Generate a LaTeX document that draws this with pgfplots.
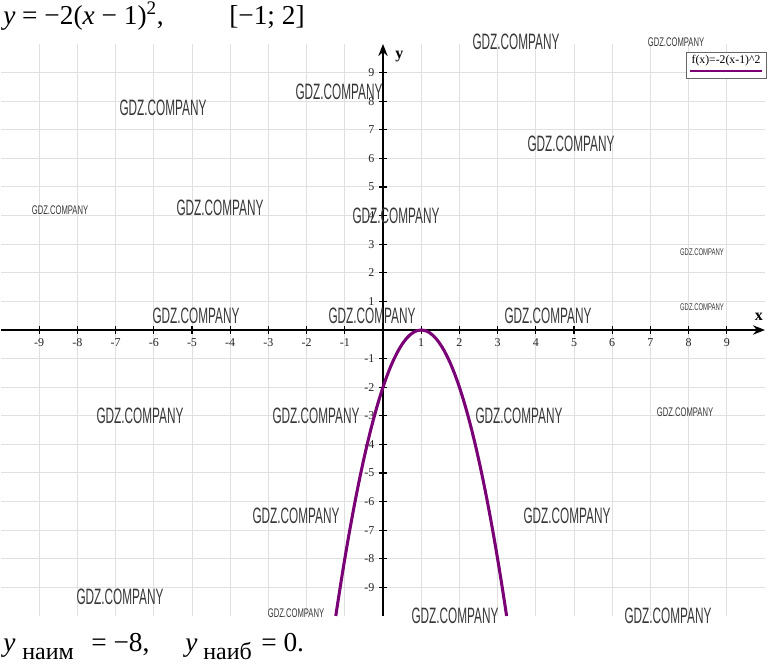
\documentclass[border=0pt]{standalone}
\usepackage{fontspec}
\setmainfont{Liberation Serif}
\newfontfamily\wm{Liberation Sans}
\usepackage{pgfplots}
\pgfplotsset{compat=1.18}
\usetikzlibrary{arrows.meta}
\definecolor{curve}{RGB}{122,0,118}
\definecolor{wmc}{RGB}{55,55,55}
\newcommand{\WB}[2]{\node[text=wmc,inner sep=0pt] at (#1,{664-#2}) {\wm\fontsize{16.7}{18}\selectfont\scalebox{0.53}[1]{GDZ.COMPANY}};}
\newcommand{\WM}[2]{\node[text=wmc,inner sep=0pt] at (#1,{664-#2}) {\wm\fontsize{9.4}{10}\selectfont\scalebox{0.61}[1]{GDZ.COMPANY}};}
\newcommand{\WS}[2]{\node[text=wmc,inner sep=0pt] at (#1,{664-#2}) {\wm\fontsize{7.3}{8}\selectfont\scalebox{0.61}[1]{GDZ.COMPANY}};}
\begin{document}
\begin{tikzpicture}[x=0.75pt,y=0.75pt]
\useasboundingbox (0,0) rectangle (768,664);
\begin{axis}[at={(0.75pt,36pt)}, anchor=south west, scale only axis,
  width=573pt, height=429pt,
  xmin=-10, xmax=10, ymin=-10, ymax=10,
  axis lines=middle,
  axis line style={line width=1.5pt, -{Stealth[length=9pt,width=7pt]}},
  xtick={-9,-8,-7,-6,-5,-4,-3,-2,-1,1,2,3,4,5,6,7,8,9},
  xticklabels={-9,-8,-7,-6,-5,-4,-3,-2,-1,1,2,3,4,5,6,7,8,9},
  ytick={-9,-8,-7,-6,-5,-4,-3,-2,-1,1,2,3,4,5,6,7,8,9},
  yticklabels={-9,-8,-7,-6,-5,-4,-3,-2,-1,1,2,3,4,5,6,7,8,9},
  grid=major,
  major grid style={draw=black!12, line width=0.75pt},
  tick style={black, line width=0.9pt},
  major tick length=6pt, tick align=center,
  tick label style={font=\fontsize{9}{10}\selectfont, text=black!85},
  clip=false,
]
\addplot[curve, line width=2.3pt, smooth] coordinates {
(-1.236,-10.0) (-1.2,-9.68) (-1.1,-8.82) (-1.0,-8) (-0.9,-7.22) (-0.8,-6.48)
(-0.7,-5.78) (-0.6,-5.12) (-0.5,-4.5) (-0.4,-3.92) (-0.3,-3.38) (-0.2,-2.88)
(-0.1,-2.42) (0,-2) (0.1,-1.62) (0.2,-1.28) (0.3,-0.98) (0.4,-0.72) (0.5,-0.5)
(0.6,-0.32) (0.7,-0.18) (0.8,-0.08) (0.9,-0.02) (1.0,0) (1.1,-0.02) (1.2,-0.08)
(1.3,-0.18) (1.4,-0.32) (1.5,-0.5) (1.6,-0.72) (1.7,-0.98) (1.8,-1.28) (1.9,-1.62)
(2.0,-2) (2.1,-2.42) (2.2,-2.88) (2.3,-3.38) (2.4,-3.92) (2.5,-4.5) (2.6,-5.12)
(2.7,-5.78) (2.8,-6.48) (2.9,-7.22) (3.0,-8) (3.1,-8.82) (3.2,-9.68) (3.236,-10.0)
};
\node at (axis cs:9.84,0.45) {\fontsize{12}{13}\selectfont\textbf{x}};
\node at (axis cs:0.43,9.55) {\fontsize{12}{13}\selectfont\textbf{y}};
\end{axis}
% legend
\draw[black!60, line width=0.6pt, fill=white] (686,612) rectangle (766,586);
\node at (726,603) {\fontsize{8.8}{9}\selectfont f(x)=-2(x-1)\textasciicircum 2};
\draw[curve, line width=2.2pt] (690,593) -- (762,593);
% title
\node[anchor=base west, inner sep=0pt] at (3,639) {\fontsize{20.5}{22}\selectfont\textit{y} = −2(\textit{x} − 1)\textsuperscript{2},};
\node[anchor=base west, inner sep=0pt] at (229,639) {\fontsize{20.5}{22}\selectfont[−1; 2]};
% bottom
\node[anchor=base west, inner sep=0pt] at (3,12) {\fontsize{20.5}{22}\selectfont\textit{y}};
\node[anchor=base west, inner sep=0pt] at (22,4) {\fontsize{18}{19}\selectfont наим};
\node[anchor=base west, inner sep=0pt] at (91,12) {\fontsize{20.5}{22}\selectfont= −8,};
\node[anchor=base west, inner sep=0pt] at (185,12) {\fontsize{20.5}{22}\selectfont\textit{y}};
\node[anchor=base west, inner sep=0pt] at (203,4) {\fontsize{18}{19}\selectfont наиб};
\node[anchor=base west, inner sep=0pt] at (261,12) {\fontsize{20.5}{22}\selectfont= 0.};
% watermarks
\WB{516}{42}\WB{339}{92}\WB{163}{108}\WB{571}{144}\WB{220}{208}\WB{396}{216}
\WB{196}{316}\WB{372}{316}\WB{548}{316}\WB{140}{416}\WB{316}{416}\WB{519}{416}
\WB{296}{516}\WB{567}{516}\WB{120}{597}\WB{455}{616}\WB{668}{616}
\WM{676}{42}\WM{60}{210}\WM{296}{613}\WM{685}{412}
\WS{702}{252}\WS{702}{307}
\end{tikzpicture}
\end{document}
